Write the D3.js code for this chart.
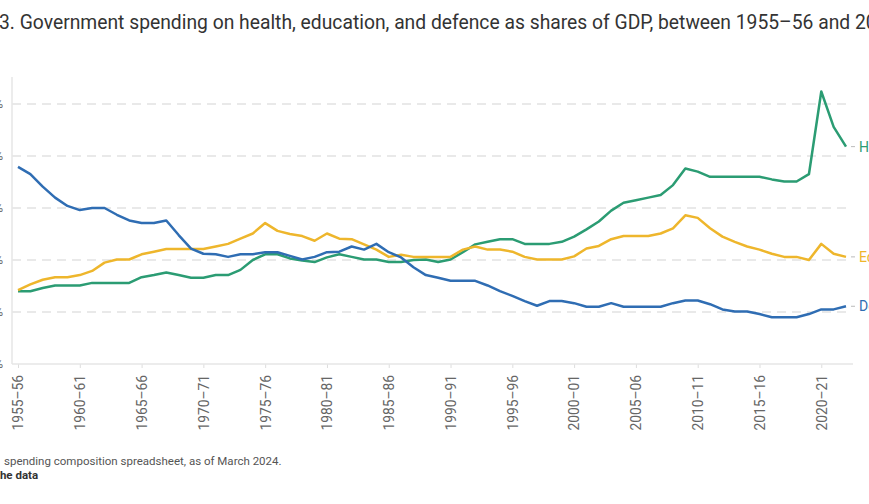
<!DOCTYPE html>
<html>
<head>
<meta charset="utf-8">
<script src="https://cdn.jsdelivr.net/npm/d3@7"></script>
<style>
  html, body { margin: 0; padding: 0; background: #fff; overflow: hidden; }
  svg { display: block; font-family: Roboto, "Noto Sans", sans-serif; }
</style>
</head>
<body>
<svg id="chart" width="869" height="504"></svg>
<script>
const categories = [
  "1955–56","1956–57","1957–58","1958–59","1959–60","1960–61","1961–62","1962–63","1963–64","1964–65",
  "1965–66","1966–67","1967–68","1968–69","1969–70","1970–71","1971–72","1972–73","1973–74","1974–75",
  "1975–76","1976–77","1977–78","1978–79","1979–80","1980–81","1981–82","1982–83","1983–84","1984–85",
  "1985–86","1986–87","1987–88","1988–89","1989–90","1990–91","1991–92","1992–93","1993–94","1994–95",
  "1995–96","1996–97","1997–98","1998–99","1999–00","2000–01","2001–02","2002–03","2003–04","2004–05",
  "2005–06","2006–07","2007–08","2008–09","2009–10","2010–11","2011–12","2012–13","2013–14","2014–15",
  "2015–16","2016–17","2017–18","2018–19","2019–20","2020–21","2021–22","2022–23"
];

const health = [
  1.40,1.40,1.46,1.51,1.51,1.51,1.56,1.56,1.56,1.56,
  1.67,1.71,1.76,1.71,1.66,1.66,1.71,1.71,1.81,2.00,
  2.11,2.11,2.03,1.99,1.96,2.05,2.11,2.06,2.01,2.01,
  1.96,1.96,2.00,2.01,1.96,2.01,2.15,2.30,2.35,2.40,
  2.40,2.31,2.31,2.31,2.35,2.45,2.59,2.74,2.95,3.10,
  3.15,3.20,3.25,3.44,3.76,3.70,3.60,3.60,3.60,3.60,
  3.60,3.55,3.51,3.51,3.65,5.24,4.56,4.18
];

const education = [
  1.42,1.53,1.62,1.67,1.67,1.71,1.79,1.95,2.01,2.01,
  2.11,2.16,2.21,2.21,2.21,2.21,2.26,2.31,2.41,2.51,
  2.71,2.56,2.50,2.46,2.37,2.51,2.41,2.40,2.30,2.20,
  2.06,2.10,2.06,2.06,2.06,2.06,2.20,2.26,2.20,2.20,
  2.16,2.06,2.01,2.01,2.01,2.07,2.22,2.27,2.40,2.46,
  2.46,2.46,2.51,2.61,2.86,2.81,2.61,2.45,2.35,2.26,
  2.20,2.12,2.06,2.06,2.00,2.31,2.12,2.06
];

const defence = [
  3.79,3.65,3.41,3.20,3.04,2.96,3.00,3.00,2.87,2.76,
  2.71,2.71,2.76,2.48,2.22,2.12,2.11,2.06,2.11,2.11,
  2.15,2.15,2.08,2.01,2.06,2.15,2.16,2.26,2.20,2.31,
  2.15,2.05,1.86,1.71,1.66,1.60,1.60,1.60,1.51,1.40,
  1.31,1.21,1.12,1.21,1.21,1.17,1.10,1.10,1.17,1.10,
  1.10,1.10,1.10,1.17,1.22,1.22,1.15,1.05,1.01,1.01,
  0.96,0.90,0.90,0.90,0.96,1.05,1.05,1.11
];

const tickLabels = ["1955–56","1960–61","1965–66","1970–71","1975–76","1980–81","1985–86",
  "1990–91","1995–96","2000–01","2005–06","2010–11","2015–16","2020–21"];
const yTicks = [0, 1, 2, 3, 4, 5];
const seriesNames = ["Health", "Education", "Defence"];
const seriesColors = ["#2b9c73", "#eeb62c", "#2f6db3"];

const titleText = "3. Government spending on health, education, and defence as shares of GDP, between 1955–56 and 2022–23";
const sourceText = "spending composition spreadsheet, as of March 2024.";
const dataLinkText = "the data";

const svg = d3.select("#chart");

const x = d3.scalePoint().domain(categories).range([18, 846]);
const y = d3.scaleLinear().domain([0, 5]).range([364, 104]);

// Title
svg.append("text")
  .attr("x", -1).attr("y", 29)
  .attr("font-size", 19.3).attr("fill", "#333")
  .text(titleText);

// Gridlines
svg.append("g").selectAll("line")
  .data(yTicks.filter(d => d > 0))
  .join("line")
  .attr("x1", 12).attr("x2", 850)
  .attr("y1", d => y(d)).attr("y2", d => y(d))
  .attr("stroke", "#e2e2e2").attr("stroke-width", 1.5)
  .attr("stroke-dasharray", "9,6");

// Y axis labels (mostly off-canvas, as in the reference)
svg.append("g").selectAll("text")
  .data(yTicks)
  .join("text")
  .attr("x", 3).attr("y", d => y(d) + 4)
  .attr("text-anchor", "end")
  .attr("font-size", 12).attr("fill", "#666")
  .text(d => d + "%");

// Vertical axis line
svg.append("line")
  .attr("x1", 12).attr("x2", 12)
  .attr("y1", 77).attr("y2", 364)
  .attr("stroke", "#e6e6e6").attr("stroke-width", 1.5);

// X axis
const xAxis = d3.axisBottom(x).tickValues(tickLabels).tickSize(4).tickSizeOuter(0);
const gx = svg.append("g").attr("transform", "translate(0,364)").call(xAxis);
gx.select(".domain").remove();
gx.selectAll(".tick line").attr("stroke", "#ddd");
gx.selectAll(".tick text")
  .attr("font-family", "Roboto, sans-serif")
  .attr("font-size", 13.8).attr("fill", "#666")
  .attr("transform", "rotate(-90)")
  .attr("text-anchor", "end")
  .attr("x", -11).attr("y", 0).attr("dy", "0.35em");
svg.append("line")
  .attr("x1", 12).attr("x2", 853)
  .attr("y1", 364).attr("y2", 364)
  .attr("stroke", "#e6e6e6").attr("stroke-width", 1.5);

// Lines
const seriesData = [health, education, defence];
const line = d3.line()
  .x((d, i) => x(categories[i]))
  .y(d => y(d));

svg.append("g").selectAll("path")
  .data(seriesData)
  .join("path")
  .attr("d", d => line(d))
  .attr("fill", "none")
  .attr("stroke", (d, i) => seriesColors[i])
  .attr("stroke-width", 2.5)
  .attr("stroke-linejoin", "round");

// End labels
const last = categories.length - 1;
const lab = svg.append("g").selectAll("g")
  .data(seriesData)
  .join("g")
  .attr("transform", d => `translate(${x(categories[last])},${y(d[last])})`);
lab.append("line")
  .attr("x1", 5).attr("x2", 9).attr("y1", 0).attr("y2", 0)
  .attr("stroke", "#bbb").attr("stroke-width", 1);
lab.append("text")
  .attr("x", 13).attr("dy", "0.35em")
  .attr("font-size", 14)
  .attr("fill", (d, i) => seriesColors[i])
  .text((d, i) => seriesNames[i]);

// Source / notes
svg.append("text")
  .attr("x", 4).attr("y", 465)
  .attr("font-size", 11.5).attr("fill", "#555")
  .text(sourceText);
svg.append("text")
  .attr("x", -4).attr("y", 479)
  .attr("font-size", 11.5).attr("font-weight", "bold").attr("fill", "#333")
  .text(dataLinkText);
</script>
</body>
</html>
